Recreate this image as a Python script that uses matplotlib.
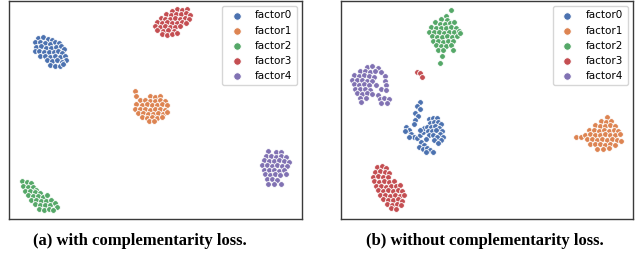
import matplotlib
matplotlib.use("Agg")
import matplotlib.pyplot as plt

# t-SNE embeddings as (x, y) pairs,
# in image-pixel units of each panel (y grows downward)
labels = ["factor0", "factor1", "factor2", "factor3", "factor4"]
colors = ["#4C72B0", "#DD8452", "#55A868", "#C44E52", "#8172B3"]

# (a) with complementarity loss
a_factor0 = [(38, 38), (43, 37), (48, 39), (52, 40),
             (35, 42), (40, 42), (45, 43), (50, 44), (55, 42), (59, 43),
             (36, 47), (41, 46), (46, 48), (51, 48), (56, 47), (61, 46), (64, 49),
             (35, 51), (39, 51), (44, 52), (49, 52), (54, 52), (58, 51), (62, 53),
             (40, 56), (45, 56), (50, 57), (55, 56), (60, 57), (65, 56), (66, 60),
             (47, 60), (52, 61), (57, 60), (62, 62),
             (50, 65), (55, 66), (60, 66), (63, 64)]
a_factor1 = [(135, 91), (136, 96),
             (150, 96), (155, 97), (160, 96),
             (140, 100), (145, 100), (150, 101), (155, 101), (160, 100), (165, 101),
             (136, 104), (142, 105), (147, 104), (152, 105), (157, 105), (162, 104), (167, 105),
             (135, 109), (140, 109), (145, 109), (150, 110), (155, 109), (160, 109), (165, 110),
             (138, 113), (143, 113), (148, 114), (153, 114), (158, 113), (163, 114), (167, 112),
             (142, 117), (147, 118), (152, 117), (157, 118), (162, 117),
             (149, 121), (154, 121)]
a_factor2 = [(22, 181), (27, 182), (31, 183),
             (23, 186), (28, 187), (33, 187), (36, 190),
             (25, 191), (30, 191), (35, 192), (40, 193),
             (28, 195), (33, 196), (38, 196), (43, 197), (47, 195),
             (31, 200), (36, 200), (41, 201), (46, 201), (51, 200),
             (35, 204), (40, 205), (45, 205), (50, 205), (55, 203), (57, 207),
             (39, 209), (44, 210), (49, 209), (53, 210)]
a_factor3 = [(177, 9), (182, 10), (187, 9), (172, 11),
             (166, 14), (171, 15), (176, 14), (181, 14), (186, 13), (190, 15),
             (161, 18), (165, 19), (170, 19), (175, 18), (180, 19), (185, 18), (189, 19),
             (157, 22), (162, 23), (167, 22), (172, 23), (177, 23), (182, 22), (186, 23),
             (155, 26), (160, 27), (165, 26), (170, 27), (175, 27), (180, 26),
             (157, 30), (163, 31), (168, 30), (174, 31),
             (162, 34), (167, 35), (172, 34), (177, 33)]
a_factor4 = [(268, 151), (276, 152), (281, 152),
             (266, 156), (271, 156), (276, 157), (281, 156), (286, 157),
             (264, 160), (269, 161), (274, 161), (279, 160), (284, 161), (289, 162),
             (262, 165), (267, 165), (272, 166), (277, 165), (282, 166), (287, 166),
             (264, 170), (269, 170), (274, 170), (279, 171), (284, 170),
             (265, 174), (270, 175), (275, 174), (280, 175), (286, 174),
             (267, 179), (272, 179), (277, 180),
             (268, 184), (274, 184), (281, 184)]

# (b) without complementarity loss
b_factor0 = [(420, 102), (417, 106), (420, 109), (415, 113), (418, 116), (415, 120), (414, 124),
             (406, 127), (409, 130), (405, 131), (411, 134), (414, 137), (409, 137),
             (417, 138), (420, 135), (423, 132), (424, 128), (420, 130),
             (429, 119), (433, 118), (437, 118), (430, 123), (434, 122), (438, 122),
             (441, 124), (427, 127), (431, 127), (435, 126), (439, 128), (442, 131),
             (428, 131), (432, 131), (436, 130), (440, 134), (443, 137), (429, 135),
             (433, 135), (437, 137), (441, 140), (434, 140), (438, 143), (426, 139),
             (421, 142), (424, 145), (419, 147), (423, 149), (427, 148), (430, 150),
             (433, 152), (426, 152)]
b_factor1 = [(607, 117), (601, 121), (606, 122), (611, 121),
             (595, 125), (600, 126), (605, 126), (610, 125), (615, 126),
             (589, 130), (594, 130), (599, 131), (604, 130), (609, 131), (614, 130), (618, 131),
             (576, 137), (581, 137), (585, 135), (590, 134), (595, 135), (600, 135),
             (605, 134), (610, 135), (615, 135), (620, 134),
             (587, 139), (592, 139), (597, 140), (602, 139), (607, 140), (612, 139),
             (617, 140), (621, 141),
             (590, 144), (595, 144), (600, 144), (605, 145), (610, 144), (615, 145),
             (597, 149), (603, 149), (609, 148)]
b_factor2 = [(451, 10), (446, 16), (441, 19), (447, 20),
             (435, 22), (440, 24), (445, 24), (450, 23), (454, 22),
             (431, 27), (436, 28), (441, 28), (446, 28), (451, 27), (456, 28),
             (429, 32), (434, 32), (439, 32), (444, 33), (449, 32), (454, 32), (459, 31),
             (432, 36), (437, 37), (442, 37), (447, 36), (452, 37), (457, 36), (460, 33),
             (433, 41), (438, 41), (443, 42), (448, 41), (453, 41),
             (436, 45), (441, 46), (446, 46), (451, 45),
             (438, 50), (443, 50), (453, 50),
             (442, 56), (440, 63)]
b_factor3 = [(417, 72), (420, 73), (422, 77),
             (377, 167), (382, 166), (386, 168),
             (375, 172), (380, 171), (385, 172), (389, 173),
             (373, 177), (378, 176), (383, 177), (388, 177),
             (374, 181), (379, 182), (384, 181), (389, 182), (394, 181),
             (376, 186), (381, 186), (386, 187), (391, 186), (396, 186), (400, 185),
             (378, 190), (383, 191), (388, 190), (393, 191), (398, 190), (402, 191),
             (380, 195), (385, 195), (390, 196), (395, 195), (400, 196), (404, 195),
             (383, 199), (388, 200), (393, 200), (398, 199), (402, 201),
             (387, 204), (392, 205), (397, 204), (401, 205),
             (391, 208), (396, 209)]
b_factor4 = [(367, 67), (372, 66), (378, 68),
             (360, 71), (365, 71), (370, 72), (375, 71), (381, 72),
             (354, 75), (359, 76), (364, 75), (369, 76), (374, 77), (385, 76),
             (352, 80), (357, 80), (362, 80), (367, 81), (372, 81), (385, 81),
             (354, 84), (359, 85), (364, 84), (369, 85), (376, 85), (386, 85),
             (355, 89), (360, 89), (365, 89), (370, 90), (381, 89), (386, 90),
             (357, 93), (362, 94), (367, 93), (372, 94), (378, 95),
             (360, 98), (366, 98), (380, 99), (384, 98), (389, 99),
             (361, 102), (381, 103), (387, 103)]

panel_a = [a_factor0, a_factor1, a_factor2, a_factor3, a_factor4]
panel_b = [b_factor0, b_factor1, b_factor2, b_factor3, b_factor4]
captions = ["(a) with complementarity loss.", "(b) without complementarity loss."]

W, H = 641, 262
fig = plt.figure(figsize=(W / 100, H / 100), dpi=100)

# axes boxes in pixels: left, right, top, bottom
boxes = [(9, 302, 1, 219), (341, 633, 1, 219)]
caption_x = [140, 485]

for panel, box, cap, cx in zip([panel_a, panel_b], boxes, captions, caption_x):
    l, r, t, b = box
    ax = fig.add_axes([l / W, 1 - b / H, (r - l) / W, (b - t) / H])
    for pts, lab, col in zip(panel, labels, colors):
        xs, ys = zip(*pts)
        ax.scatter(xs, ys, s=17, c=col, edgecolors="white", linewidths=0.6, label=lab)
    ax.set_xlim(l, r)
    ax.set_ylim(b, t)
    ax.set_xticks([])
    ax.set_yticks([])
    for sp in ax.spines.values():
        sp.set_color("#3a3a3a")
        sp.set_linewidth(1.0)
    ax.legend(loc="upper right", fontsize=7.5, scatterpoints=1, markerscale=1.3,
              framealpha=0.8)
    fig.text(cx / W, 1 - 241 / H, cap, ha="center", va="center",
             fontsize=12, fontweight="bold", family="Liberation Serif")

fig.savefig("out.png", dpi=100)
